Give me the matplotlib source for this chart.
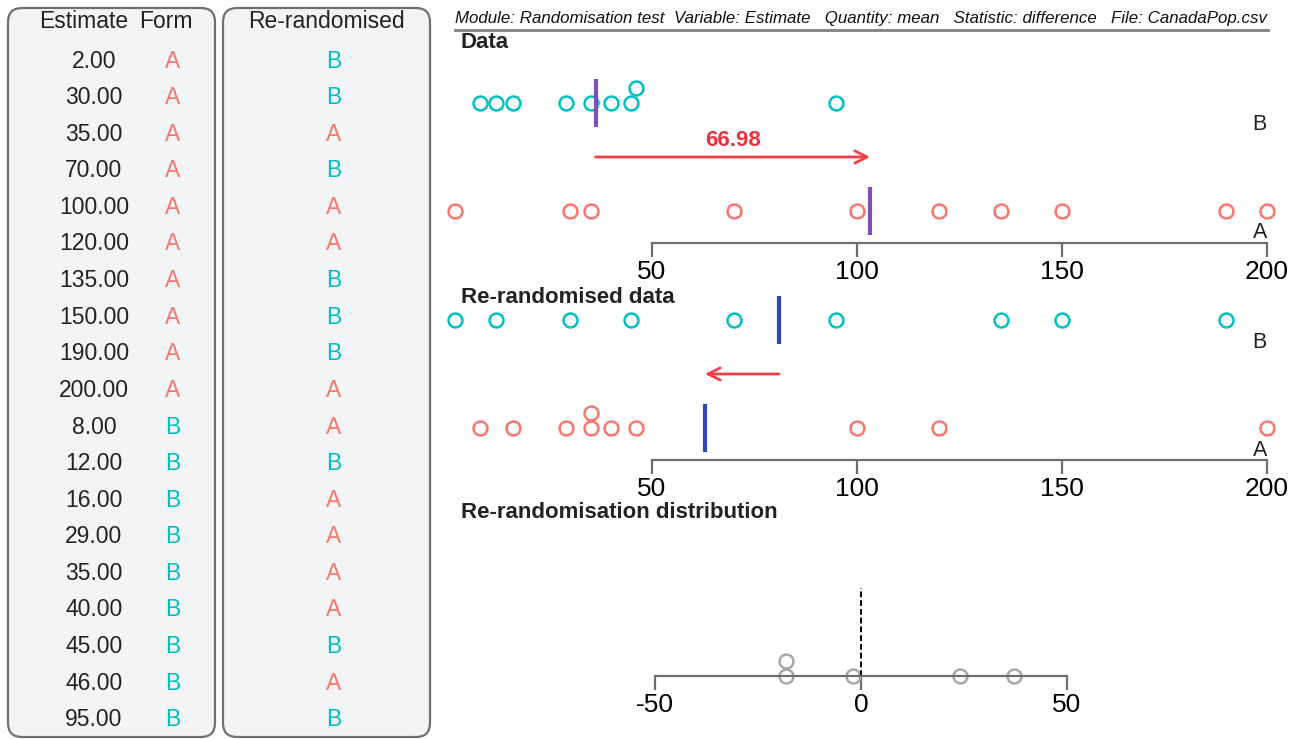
import numpy as np
import matplotlib
matplotlib.use("Agg")
import matplotlib.pyplot as plt
from matplotlib.patches import FancyBboxPatch
from matplotlib.lines import Line2D

plt.rcParams['font.family'] = ['Liberation Sans', 'DejaVu Sans']
plt.rcParams['axes.unicode_minus'] = False

# ---- data ----
estimate = [2, 30, 35, 70, 100, 120, 135, 150, 190, 200,
            8, 12, 16, 29, 35, 40, 45, 46, 95]
form = ['A'] * 10 + ['B'] * 9
rerand = ['B', 'B', 'A', 'B', 'A', 'A', 'B', 'B', 'B', 'A',
          'A', 'B', 'A', 'A', 'A', 'A', 'B', 'A', 'B']
# differences collected so far (mean A - mean B)
rerand_diffs = [-18.1, -18.1, -2.0, 24.0, 37.1]

data_ticks = [50, 100, 150, 200]
dist_ticks = [-50, 0, 50]

COL = {'A': '#f8766d', 'B': '#00bfc4'}
MEAN_DATA = '#7f4fb5'
MEAN_RR = '#3447b0'
ARROW = '#f0404a'
AXCOL = '#6e6e6e'

W, H = 1303, 739
fig = plt.figure(figsize=(W / 100, H / 100), dpi=100)


def px_axes(x0, y0, x1, y1):
    return fig.add_axes([x0 / W, 1 - y1 / H, (x1 - x0) / W, (y1 - y0) / H])


def stack(vals, width):
    # simple dot stacking: raise a point when it touches a previous one
    lev = []
    placed = []
    for v in vals:
        k = 0
        while any(abs(v - p) < width and l == k for p, l in placed):
            k += 1
        placed.append((v, k))
        lev.append(k)
    return np.array(lev)


# ---- left: tables ----
tab = px_axes(0, 0, 440, H)
tab.set_xlim(0, 440)
tab.set_ylim(H, 0)
tab.axis('off')
for x0 in (8, 223):
    tab.add_patch(FancyBboxPatch((x0 + 14, 22), 207 - 28, 729 - 28,
                                 boxstyle="round,pad=14",
                                 fc='#f3f4f6', ec='#707070', lw=1.6,
                                 clip_on=False))
fs = 16.5
tab.text(84, 22, 'Estimate', ha='center', va='center', fontsize=fs, color='#222')
tab.text(166, 22, 'Form', ha='center', va='center', fontsize=fs, color='#222')
tab.text(326, 22, 'Re-randomised', ha='center', va='center', fontsize=fs, color='#222')
for i, (e, f, r) in enumerate(zip(estimate, form, rerand)):
    y = 61 + i * 36.6
    tab.text(94, y, f'{e:.2f}', ha='center', va='center', fontsize=fs, color='#222')
    tab.text(173, y, f, ha='center', va='center', fontsize=fs, color=COL[f])
    tab.text(334, y, r, ha='center', va='center', fontsize=fs, color=COL[r])

# ---- header ----
fig.text(455 / W, 1 - 19 / H,
         'Module: Randomisation test  Variable: Estimate   Quantity: mean   '
         'Statistic: difference   File: CanadaPop.csv',
         fontsize=12.2, style='italic', va='center', ha='left', color='#111')
fig.add_artist(Line2D([455 / W, 1268 / W], [1 - 30 / H, 1 - 30 / H],
                      color='#808080', lw=2))

TITLE_FS = 16


def dot_panel(y_top, y_axis, groups, mean_col, title, title_y, arrow_label=None):
    # rows: A at level 0 (32 px above the axis), B at level 1; 1 level = 108 px
    ax = px_axes(447, y_top, 1267, y_axis)
    ppl = 108.0
    ax.set_xlim(0, 200)
    ax.set_ylim(-32 / ppl, (y_axis - y_top - 32) / ppl)
    for s in ('top', 'left', 'right'):
        ax.spines[s].set_visible(False)
    ax.spines['bottom'].set_bounds(data_ticks[0], data_ticks[-1])
    ax.spines['bottom'].set_color(AXCOL)
    ax.spines['bottom'].set_linewidth(1.6)
    ax.set_xticks(data_ticks)
    ax.tick_params(axis='x', length=10, width=1.6, color=AXCOL,
                   labelsize=19, pad=2)
    ax.set_yticks([])
    ax.patch.set_visible(False)
    means = {}
    for g, lvl in (('A', 0), ('B', 1)):
        vals = np.array(sorted(groups[g]), dtype=float)
        st = stack(vals, 3.5)
        ax.plot(vals, lvl + st * 15 / ppl, 'o', ms=10, mfc='none',
                mec=COL[g], mew=1.8, clip_on=False)
        m = vals.mean()
        means[g] = m
        ax.plot([m, m], [lvl - 24 / ppl, lvl + 24 / ppl], color=mean_col,
                lw=3, solid_capstyle='butt', clip_on=False)
        ax.text(200, lvl - 22 / ppl, g, ha='right', va='center', fontsize=15.5,
                color='#222')
    ax.annotate('', xy=(means['A'], 0.5), xytext=(means['B'], 0.5),
                arrowprops=dict(arrowstyle='->', color=ARROW, lw=2,
                                mutation_scale=22, shrinkA=0, shrinkB=0))
    if arrow_label:
        ax.text((means['A'] + means['B']) / 2, 0.5 + 17 / ppl, arrow_label,
                ha='center', va='center', fontsize=16, fontweight='bold',
                color='#e8323c')
    fig.text(461 / W, 1 - title_y / H, title, fontsize=TITLE_FS,
             fontweight='bold', va='center', ha='left', color='#222')
    return ax


grp = {'A': [e for e, f in zip(estimate, form) if f == 'A'],
       'B': [e for e, f in zip(estimate, form) if f == 'B']}
diff = np.mean(grp['A']) - np.mean(grp['B'])
dot_panel(59, 243, grp, MEAN_DATA, 'Data', 42, f'{diff:.2f}')

rgrp = {'A': [e for e, r in zip(estimate, rerand) if r == 'A'],
        'B': [e for e, r in zip(estimate, rerand) if r == 'B']}
dot_panel(314, 460, rgrp, MEAN_RR, 'Re-randomised data', 297)

# ---- distribution ----
axd = px_axes(655, 530, 1067, 676)
axd.set_xlim(-50, 50)
axd.set_ylim(0, 146)
for s in ('top', 'left', 'right'):
    axd.spines[s].set_visible(False)
axd.spines['bottom'].set_color(AXCOL)
axd.spines['bottom'].set_linewidth(1.6)
axd.set_xticks(dist_ticks)
axd.tick_params(axis='x', length=10, width=1.6, color=AXCOL, labelsize=19, pad=2)
axd.set_yticks([])
axd.patch.set_visible(False)
dv = np.array(sorted(rerand_diffs))
axd.plot(dv, stack(dv, 3.5) * 15, 'o', ms=10, mfc='none', mec='#a8a8a8',
         mew=1.8, clip_on=False)
axd.plot([0, 0], [0, 88], color='black', lw=1.4, ls=(0, (3, 1.5)))
fig.text(461 / W, 1 - 513 / H, 'Re-randomisation distribution', fontsize=TITLE_FS,
         fontweight='bold', va='center', ha='left', color='#222')

fig.savefig('out.png', dpi=100)
